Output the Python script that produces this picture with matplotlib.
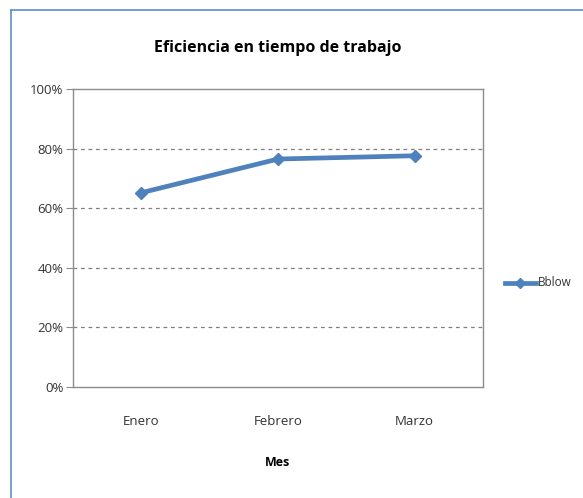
import matplotlib
matplotlib.use("Agg")
import matplotlib.pyplot as plt
from matplotlib.lines import Line2D
from matplotlib.ticker import FuncFormatter

categories = ["Enero", "Febrero", "Marzo"]
values = [0.652, 0.765, 0.776]
series_name = "Bblow"
y_ticks = [0, 0.2, 0.4, 0.6, 0.8, 1.0]

plt.rcParams['font.family'] = ['Open Sans', 'DejaVu Sans']

W, H = 583, 498
fig = plt.figure(figsize=(W/100, H/100), dpi=100)
fig.patch.set_facecolor("white")

# chart area border
border = "#5B8FD0"
fig.add_artist(Line2D([11/W, 1], [1-10/H, 1-10/H], color=border, lw=1.2))
fig.add_artist(Line2D([11/W, 11/W], [0, 1-10/H], color=border, lw=1.2))

left, right, top, bottom = 73, 483, 89, 387
ax = fig.add_axes([left/W, 1-bottom/H, (right-left)/W, (bottom-top)/H])
x = list(range(len(categories)))
line_color = "#4F81BD"
ax.plot(x, values, color=line_color, lw=3.4, marker="D", markersize=6.5, label=series_name, zorder=3)
ax.set_xlim(-0.5, len(categories)-0.5)
ax.set_ylim(0, 1.0)
ax.set_yticks(y_ticks)
ax.yaxis.set_major_formatter(FuncFormatter(lambda v, p: f"{v*100:.0f}%"))
ax.set_xticks(x)
ax.set_xticklabels(categories)
for yv in y_ticks[1:-1]:
    ax.axhline(yv, color="#7F7F7F", lw=0.9, ls=(0, (3, 3)), zorder=1)
for s in ax.spines.values():
    s.set_color("#8C8C8C")
    s.set_linewidth(1.0)
ax.tick_params(axis="y", length=5, color="#8C8C8C", labelsize=9.5, pad=2, labelcolor="#333333")
ax.tick_params(axis="x", length=0, labelsize=9.5, pad=20, labelcolor="#333333")

fig.text((left+right)/2/W, 1-48/H, "Eficiencia en tiempo de trabajo", ha="center", va="center",
         fontsize=11.5, fontweight="bold", color="black")
fig.text((left+right)/2/W, 1-462/H, "Mes", ha="center", va="center", fontsize=9, fontweight="bold")

# legend
ly = 1-283/H
fig.add_artist(Line2D([505/W, 536/W], [ly, ly], color=line_color, lw=3.4))
fig.add_artist(Line2D([520/W], [ly], color=line_color, marker="D", markersize=5.5, lw=0))
fig.text(538/W, ly, series_name, ha="left", va="center", fontsize=8.5, color="#333333")

fig.savefig("out.png", dpi=100)
